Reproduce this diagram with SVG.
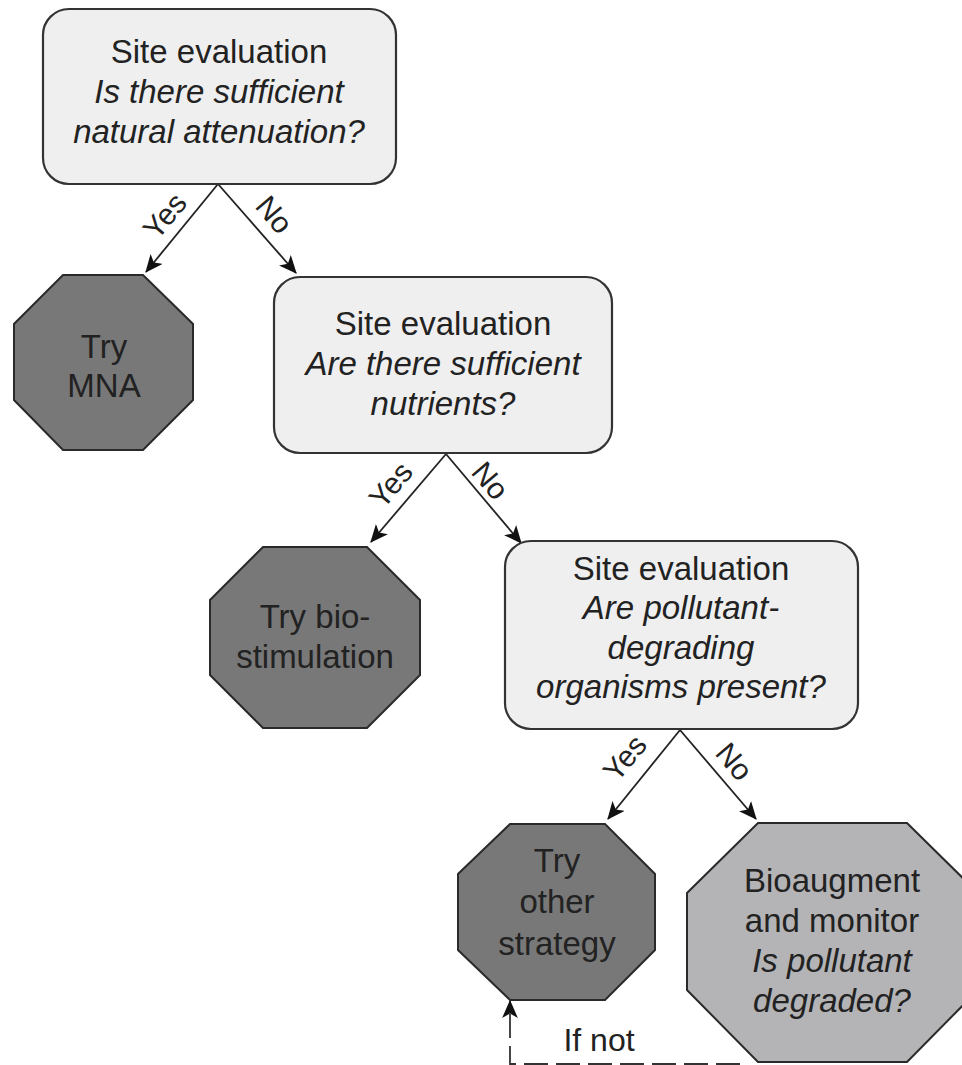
<svg xmlns="http://www.w3.org/2000/svg" width="962" height="1065" viewBox="0 0 962 1065">
<defs>
<style>
.box{fill:#efefef;stroke:#333;stroke-width:2.2}
.oct{fill:#787878;stroke:#2a2a2a;stroke-width:2}
.oct2{fill:#b4b4b6;stroke:#2a2a2a;stroke-width:2}
text{font-family:"Liberation Sans",Arial,sans-serif;fill:#222;text-anchor:middle}
.t{font-size:33px}
.i{font-size:33px;font-style:italic}
.lbl{font-size:30px}
.ln{fill:none;stroke:#222;stroke-width:1.8}
</style>
<marker id="ah2" viewBox="0 0 16 14" refX="15" refY="7" markerWidth="18" markerHeight="16" markerUnits="userSpaceOnUse" orient="auto">
<path d="M0,0 L16,7 L0,14 L4,7 z" fill="#111"/>
</marker>
</defs>
<rect width="962" height="1065" fill="#fff"/>

<g id="connectors">
<path class="ln" d="M218,184 L146,272" marker-end="url(#ah2)"/>
<path class="ln" d="M218,184 L296,273" marker-end="url(#ah2)"/>
<path class="ln" d="M446,454 L371,542" marker-end="url(#ah2)"/>
<path class="ln" d="M446,454 L521,543" marker-end="url(#ah2)"/>
<path class="ln" d="M680,730 L608,819" marker-end="url(#ah2)"/>
<path class="ln" d="M680,730 L756,819" marker-end="url(#ah2)"/>
<path d="M740,1064 H510 V1001" fill="none" stroke="#333" stroke-width="1.8" stroke-dasharray="24 8" marker-end="url(#ah2)"/>
<text class="lbl" transform="translate(165,216) rotate(-50)" dy="10">Yes</text>
<text class="lbl" transform="translate(274,215) rotate(50)" dy="10">No</text>
<text class="lbl" transform="translate(391,485) rotate(-50)" dy="10">Yes</text>
<text class="lbl" transform="translate(490,481) rotate(50)" dy="10">No</text>
<text class="lbl" transform="translate(625,758) rotate(-50)" dy="10">Yes</text>
<text class="lbl" transform="translate(734,762) rotate(50)" dy="10">No</text>
<text class="lbl" x="599" y="1051" style="font-size:32px">If not</text>
</g>

<g id="node-site1">
<rect class="box" x="43" y="9" width="353" height="175" rx="26"/>
<text class="t" x="219" y="63">Site evaluation</text>
<text class="i" x="219" y="103">Is there sufficient</text>
<text class="i" x="219" y="143">natural attenuation?</text>
</g>

<g id="node-mna">
<polygon class="oct" points="63,275 143,275 193,324 193,400 143,450 63,450 14,400 14,324"/>
<text class="t" x="104" y="358">Try</text>
<text class="t" x="104" y="397">MNA</text>
</g>

<g id="node-site2">
<rect class="box" x="274" y="277" width="338" height="176" rx="26"/>
<text class="t" x="443" y="335">Site evaluation</text>
<text class="i" x="443" y="375">Are there sufficient</text>
<text class="i" x="443" y="415">nutrients?</text>
</g>

<g id="node-biostim">
<polygon class="oct" points="263,547 367,547 420,600 420,675 367,728 263,728 210,675 210,600"/>
<text class="t" x="315" y="628">Try bio-</text>
<text class="t" x="315" y="668">stimulation</text>
</g>

<g id="node-site3">
<rect class="box" x="505" y="541" width="353" height="188" rx="26"/>
<text class="t" x="681" y="580">Site evaluation</text>
<text class="i" x="681" y="619">Are pollutant-</text>
<text class="i" x="681" y="659">degrading</text>
<text class="i" x="681" y="698">organisms present?</text>
</g>

<g id="node-other">
<polygon class="oct" points="510,824 605,824 655,874 655,950 605,1000 510,1000 458,950 458,874"/>
<text class="t" x="557" y="872">Try</text>
<text class="t" x="557" y="913">other</text>
<text class="t" x="557" y="955">strategy</text>
</g>

<g id="node-bioaug">
<polygon class="oct2" points="758,823 907,823 978,893 978,990 907,1062 758,1062 687,990 687,893"/>
<text class="t" x="832" y="892">Bioaugment</text>
<text class="t" x="832" y="932">and monitor</text>
<text class="i" x="832" y="972">Is pollutant</text>
<text class="i" x="832" y="1012">degraded?</text>
</g>
</svg>
